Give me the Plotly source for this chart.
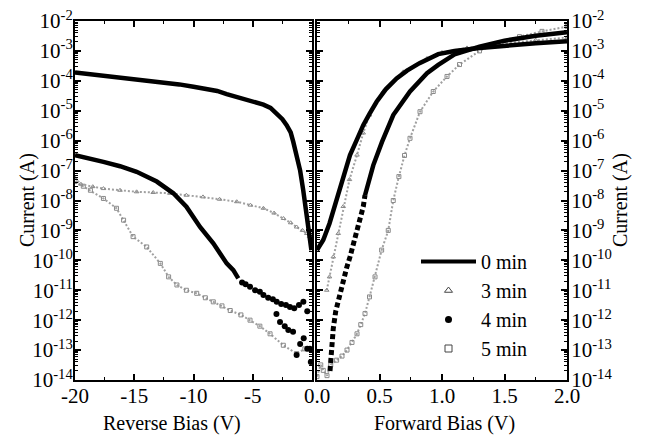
import plotly.graph_objects as go

# ---------------- data ----------------
# Reverse bias (left panel)
rev_v_0 = [-20, -18.5, -17.5, -16.0, -14.8, -13.5, -12.5, -11.2, -10.0, -9.0, -8.0, -7.2, -6.35, -5.6, -5.0, -4.5, -4.1, -3.5, -3.0, -2.5, -2.14, -1.8, -1.58, -1.3, -1.0, -0.74, -0.5, -0.31, -0.15, -0.05]
rev_i_0 = [1.9e-4, 1.62e-4, 1.48e-4, 1.3e-4, 1.15e-4, 1.0e-4, 9.3e-5, 7.6e-5, 6.3e-5, 5.4e-5, 4.6e-5, 3.6e-5, 2.85e-5, 2.45e-5, 2.1e-5, 1.8e-5, 1.6e-5, 1.25e-5, 8.1e-6, 5.2e-6, 3.3e-6, 1.9e-6, 9.1e-7, 3.3e-7, 1.0e-7, 2.2e-8, 5.0e-9, 1.0e-9, 4.0e-10, 2.2e-10]

rev_v_3 = [-20, -19.5, -18.5, -17.6, -16.2, -14.8, -13.4, -12.0, -10.6, -9.2, -7.8, -6.35, -5.2, -4.1, -3.2, -2.4, -1.8, -1.3, -0.8, -0.44, -0.2]
rev_i_3 = [5.6e-8, 3.5e-8, 2.9e-8, 2.5e-8, 2.2e-8, 1.95e-8, 1.85e-8, 1.74e-8, 1.5e-8, 1.32e-8, 1.1e-8, 9.1e-9, 7.0e-9, 5.5e-9, 3.8e-9, 2.5e-9, 1.8e-9, 1.3e-9, 1.0e-9, 7.9e-10, 6.3e-10]

rev_v_4 = [-20, -18.8, -17.6, -16.2, -14.8, -13.1, -11.7, -10.6, -9.45, -8.33, -7.2, -6.64, -6.22]
rev_i_4 = [3.3e-7, 2.6e-7, 1.95e-7, 1.4e-7, 9.1e-8, 4.3e-8, 1.74e-8, 6.2e-9, 1.3e-9, 3.7e-10, 7.9e-11, 4.7e-11, 2.5e-11]
rev_v_4s = [-5.9, -5.6, -5.23, -4.8, -4.4, -4.1, -3.7, -3.3, -2.98, -2.6, -2.2, -1.86, -1.5, -1.1, -0.73, -0.4,
            -3.0, -2.7, -2.3, -2.0, -1.6, -1.3, -1.0, -0.7, -0.4, -0.17, -0.1]
rev_i_4s = [1.8e-11, 1.6e-11, 1.3e-11, 1.0e-11, 8.9e-12, 6.9e-12, 5.6e-12, 5.0e-12, 4.1e-12, 3.5e-12, 3.2e-12, 2.75e-12, 2.5e-12, 3.2e-12, 4.1e-12, 2.0e-12,
            1.6e-12, 8.7e-13, 6.3e-13, 4.7e-13, 4.1e-13, 6.8e-14, 1.6e-13, 2.5e-13, 1.1e-13, 1.1e-13, 4.0e-14]

rev_v_5 = [-20, -19.3, -18.7, -17.6, -16.5, -15.9, -15.1, -13.95, -12.8, -12.1, -11.4, -10.6, -9.73, -9.0, -8.33, -7.6, -6.9, -6.0, -5.23, -4.4, -3.54, -2.42, -1.3, -0.6]
rev_i_5 = [4.3e-8, 3.0e-8, 2.2e-8, 1.17e-8, 5.5e-9, 2.2e-9, 6.2e-10, 2.8e-10, 7.9e-11, 2.8e-11, 1.5e-11, 1.0e-11, 7.9e-12, 5.6e-12, 4.1e-12, 3.0e-12, 2.1e-12, 1.5e-12, 1.0e-12, 6.3e-13, 3.5e-13, 1.45e-13, 7.6e-14, 1.1e-13]

# Forward bias (right panel)
fwd_v_0 = [0.0, 0.05, 0.10, 0.157, 0.21, 0.264, 0.32, 0.37, 0.42, 0.477, 0.55, 0.637, 0.72, 0.82, 0.97, 1.1, 1.3, 1.5, 1.75, 2.0]
fwd_i_0 = [2.2e-10, 4.8e-10, 1.7e-9, 1.0e-8, 5.6e-8, 3.3e-7, 1.1e-6, 3.3e-6, 7.9e-6, 2.0e-5, 5.2e-5, 1.2e-4, 2.2e-4, 3.9e-4, 7.8e-4, 1.0e-3, 1.26e-3, 1.5e-3, 1.8e-3, 2.1e-3]

fwd_v_3 = [0.078, 0.10, 0.13, 0.17, 0.21, 0.26, 0.32, 0.37, 0.42, 0.53, 0.69, 0.88, 1.0, 1.2, 1.5, 1.75, 2.0]
fwd_i_3 = [1.0e-11, 2.8e-11, 1.3e-10, 7.9e-10, 6.3e-9, 5.0e-8, 3.3e-7, 1.8e-6, 7.2e-6, 4.4e-5, 2.0e-4, 5.6e-4, 8.9e-4, 1.26e-3, 1.8e-3, 2.3e-3, 2.8e-3]

fwd_v_4 = [0.104, 0.117, 0.13, 0.15, 0.17, 0.19, 0.21, 0.237, 0.264, 0.29, 0.318, 0.345, 0.37, 0.384,
           0.45, 0.52, 0.61, 0.744, 0.88, 0.97, 1.1, 1.3, 1.5, 1.75, 2.0]
fwd_i_4 = [2.0e-14, 2.5e-13, 5.2e-13, 2.0e-12, 4.7e-12, 1.0e-11, 2.2e-11, 5.6e-11, 1.3e-10, 3.2e-10, 7.9e-10, 2.2e-9, 6.2e-9, 1.5e-8,
           1.5e-7, 9.1e-7, 7.2e-6, 4.4e-5, 1.8e-4, 3.4e-4, 7.6e-4, 1.4e-3, 2.2e-3, 3.2e-3, 4.2e-3]

fwd_v_5 = [0.0, 0.03, 0.05, 0.08, 0.11, 0.157, 0.20, 0.24, 0.28, 0.32, 0.35, 0.384, 0.42, 0.464, 0.517, 0.57, 0.61, 0.655,
           0.70, 0.744, 0.824, 0.93, 1.04, 1.14, 1.30, 1.45, 1.62, 1.8, 2.0]
fwd_i_5 = [1.3e-14, 3.2e-14, 2.1e-14, 1.4e-14, 3.2e-14, 4.6e-14, 6.3e-14, 1.0e-13, 1.8e-13, 3.5e-13, 7.1e-13, 1.66e-12, 6.0e-12, 2.8e-11, 2.2e-10, 1.0e-9, 1.0e-8, 6.3e-8,
           3.2e-7, 1.2e-6, 9.3e-6, 4.4e-5, 1.4e-4, 3.5e-4, 1.0e-3, 1.8e-3, 3.0e-3, 4.5e-3, 6.5e-3]

legend_names = ["0 min", "3 min", "4 min", "5 min"]

# ---------------- figure ----------------
FONT = "'Liberation Serif', 'Times New Roman', Times, 'DejaVu Serif', serif"
GRAY = "#a0a0a0"
MGRAY = "#8a8a8a"
fig = go.Figure()

def add(x, y, axis, **kw):
    xa, ya = ("x", "y") if axis == 1 else ("x2", "y2")
    fig.add_trace(go.Scatter(x=x, y=y, xaxis=xa, yaxis=ya, showlegend=False, **kw))

# 5 min and 3 min (gray, open markers)
for xs, ys, ax, sym in [(rev_v_5, rev_i_5, 1, "square-open"), (fwd_v_5, fwd_i_5, 2, "square-open"),
                        (rev_v_3, rev_i_3, 1, "triangle-up-open"), (fwd_v_3, fwd_i_3, 2, "triangle-up-open")]:
    add(xs, ys, ax, mode="lines+markers", line=dict(color=GRAY, width=2, dash="2px,2px"),
        marker=dict(symbol=sym, size=4, color=MGRAY, line=dict(width=1)))

# 4 min (black filled circles)
add(rev_v_4, rev_i_4, 1, mode="lines", line=dict(color="black", width=4.5))
add(rev_v_4s, rev_i_4s, 1, mode="markers", marker=dict(symbol="circle", size=6, color="black"))
split = 13
add(fwd_v_4[:split + 1], fwd_i_4[:split + 1], 2, mode="lines", line=dict(color="black", width=5, dash="5px,3px"))
add(fwd_v_4[split:], fwd_i_4[split:], 2, mode="lines", line=dict(color="black", width=4.5))

# 0 min (thick black line)
add(rev_v_0, rev_i_0, 1, mode="lines", line=dict(color="black", width=4.5))
add(fwd_v_0, fwd_i_0, 2, mode="lines", line=dict(color="black", width=4.5))

# legend entries
leg_styles = [
    dict(mode="lines", line=dict(color="black", width=4)),
    dict(mode="markers", marker=dict(symbol="triangle-up-open", size=7, color="#444", line=dict(width=1))),
    dict(mode="markers", marker=dict(symbol="circle", size=7, color="black")),
    dict(mode="markers", marker=dict(symbol="square-open", size=7, color="#444", line=dict(width=1))),
]
for name, st in zip(legend_names, leg_styles):
    fig.add_trace(go.Scatter(x=[None], y=[None], xaxis="x2", yaxis="y2", name=name, showlegend=True, **st))

# axes
y_major = [10.0 ** k for k in range(-14, -1)]
y_text = ["10<sup>%d</sup>" % k for k in range(-14, -1)]
y_minor = [m * 10.0 ** k for k in range(-14, -2) for m in range(2, 10)]

TF = dict(family=FONT, size=20, color="black")
TKF = dict(family=FONT, size=21, color="black")
common_y = dict(type="log", range=[-14, -2], tickmode="array", tickvals=y_major, ticktext=y_text,
                ticks="inside", ticklen=6, tickwidth=1.5, tickcolor="black",
                minor=dict(ticks="inside", ticklen=3, tickwidth=1, tickcolor="black", tickvals=y_minor, showgrid=False),
                showline=True, linecolor="black", linewidth=2, mirror="ticks", showgrid=False, zeroline=False,
                tickfont=TKF, automargin=False)
common_x = dict(ticks="inside", ticklen=6, tickwidth=1.5, tickcolor="black",
                showline=True, linecolor="black", linewidth=2, mirror="ticks", showgrid=False, zeroline=False,
                tickfont=TKF, automargin=False, ticklabelstandoff=-4)

W, H = 646, 439
L, R, T, B = 75, 79, 21, 59
pw = W - L - R
ph = H - T - B
fig.update_layout(
    width=W, height=H, margin=dict(l=L, r=R, t=T, b=B),
    paper_bgcolor="white", plot_bgcolor="white",
    font=TF,
    xaxis=dict(domain=[0, (312 - L) / pw], range=[-20, 0], tickmode="array",
               tickvals=[-20, -15, -10, -5], ticktext=["-20", "-15", "-10", "-5"],
               minor=dict(ticks="inside", ticklen=3, tickwidth=1, tickcolor="black", tickvals=[-17.5, -12.5, -7.5, -2.5]),
               anchor="y", **common_x),
    xaxis2=dict(domain=[(317 - L) / pw, 1], range=[0, 2], tickmode="array",
                tickvals=[0, 0.5, 1.0, 1.5, 2.0], ticktext=["0.0", "0.5", "1.0", "1.5", "2.0"],
                minor=dict(ticks="inside", ticklen=3, tickwidth=1, tickcolor="black", tickvals=[0.25, 0.75, 1.25, 1.75]),
                anchor="y2", **common_x),
    yaxis=dict(anchor="x", side="left", ticklabelstandoff=-4, **common_y),
    yaxis2=dict(anchor="x2", side="right", ticklabelstandoff=-2, **common_y),
    showlegend=True,
    legend=dict(x=(416 - L) / pw, y=1 - (242 - T) / ph, xanchor="left", yanchor="top",
                bgcolor="rgba(0,0,0,0)", itemwidth=55, font=TF, tracegroupgap=0),
    annotations=[
        dict(text="Current (A)", textangle=-90, x=(27 - L) / pw, y=1 - (200 - T) / ph,
             xref="paper", yref="paper", showarrow=False, xanchor="center", yanchor="middle", font=TF),
        dict(text="Current (A)", textangle=-90, x=(620 - L) / pw, y=1 - (200 - T) / ph,
             xref="paper", yref="paper", showarrow=False, xanchor="center", yanchor="middle", font=TF),
        dict(text="Reverse Bias (V)", x=(172 - L) / pw, y=1 - (423 - T) / ph,
             xref="paper", yref="paper", showarrow=False, xanchor="center", yanchor="middle", font=TF),
        dict(text="Forward Bias (V)", x=(444 - L) / pw, y=1 - (423 - T) / ph,
             xref="paper", yref="paper", showarrow=False, xanchor="center", yanchor="middle", font=TF),
    ],
)

fig.write_html("out.html", config={"displayModeBar": False},
               post_script="document.body.style.margin='0px';")
